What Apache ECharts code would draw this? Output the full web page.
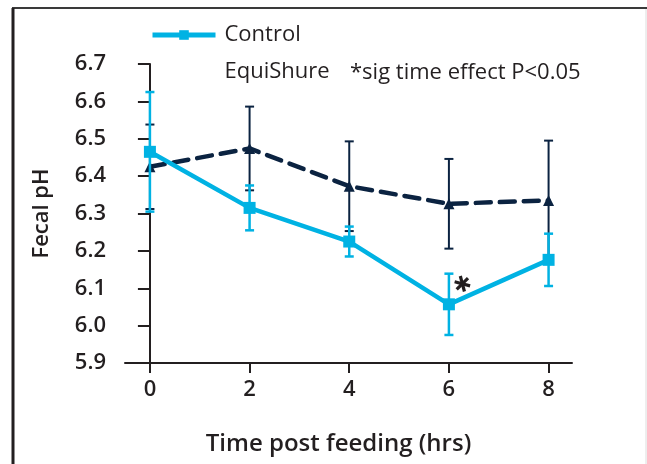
<!DOCTYPE html>
<html>
<head>
<meta charset="utf-8">
<script src="https://cdn.jsdelivr.net/npm/echarts@6/dist/echarts.min.js"></script>
<style>
  html, body { margin: 0; padding: 0; background: #fff; }
  #chart { width: 647px; height: 464px; }
</style>
</head>
<body>
<div id="chart"></div>
<script>
// 数据
const hours = [0, 2, 4, 6, 8]
const controlPH = [6.465, 6.315, 6.225, 6.057, 6.176]
const controlErr = [0.16, 0.06, 0.04, 0.082, 0.07]
const equiPH = [6.425, 6.474, 6.373, 6.326, 6.335]
const equiErr = [0.113, 0.112, 0.12, 0.12, 0.16]
const yTicks = ['5.9', '6.0', '6.1', '6.2', '6.3', '6.4', '6.5', '6.6', '6.7']
const sigMark = [6.27, 6.112]

const cyan = '#00b2e3'
const navy = '#0b2341'
const ink = '#231f20'
const font = '"Open Sans", "Noto Sans", sans-serif'

const pts = (ys) => hours.map((h, i) => [h, ys[i]])
const bars = (ys, es) => hours.map((h, i) => [h, ys[i] - es[i], ys[i] + es[i]])

// 误差线
function errorBar(color, width) {
    return function(params, api) {
        const top = api.coord([api.value(0), api.value(2)])
        const bot = api.coord([api.value(0), api.value(1)])
        const w = 4.5
        const style = { stroke: color, lineWidth: width }
        return {
            type: 'group',
            children: [
                { type: 'line', shape: { x1: top[0], y1: top[1], x2: bot[0], y2: bot[1] }, style },
                { type: 'line', shape: { x1: top[0] - w, y1: top[1], x2: top[0] + w, y2: top[1] }, style },
                { type: 'line', shape: { x1: bot[0] - w, y1: bot[1], x2: bot[0] + w, y2: bot[1] }, style }
            ]
        }
    }
}

// 星号
function asterisk(params, api) {
    const c = api.coord([api.value(0), api.value(1)])
    const r = 8
    const style = { stroke: ink, lineWidth: 3.2 }
    const arms = [75, 15, -45].map(deg => {
        const a = deg * Math.PI / 180
        const dx = Math.cos(a) * r
        const dy = Math.sin(a) * r
        return { type: 'line', shape: { x1: c[0] - dx, y1: c[1] - dy, x2: c[0] + dx, y2: c[1] + dy }, style }
    })
    return { type: 'group', children: arms }
}

const chart = echarts.init(document.getElementById('chart'))
chart.setOption({
    animation: false,
    backgroundColor: '#fff',
    textStyle: { fontFamily: font, color: ink },
    grid: { left: 125, right: 75, top: 64, bottom: 101, containLabel: false },
    legend: {
        orient: 'vertical',
        left: 150,
        top: 24,
        padding: 0,
        itemWidth: 63,
        itemHeight: 12,
        itemGap: 15,
        textStyle: { fontSize: 22, fontWeight: 500, color: ink, padding: [0, 0, 0, 4], fontFamily: font },
        data: [
            { name: 'Control', lineStyle: { width: 5 } },
            { name: 'EquiShure', icon: 'none', itemStyle: { opacity: 0 }, lineStyle: { opacity: 0 } }
        ]
    },
    graphic: [
        { type: 'line', shape: { x1: 12, y1: 8, x2: 647, y2: 8 }, style: { stroke: '#3a3a3a', lineWidth: 2 } },
        { type: 'line', shape: { x1: 13, y1: 8, x2: 13, y2: 464 }, style: { stroke: ink, lineWidth: 3 } },
        { type: 'line', shape: { x1: 646, y1: 9, x2: 646, y2: 464 }, style: { stroke: '#dcdcdc', lineWidth: 1 } },
        {
            type: 'text', left: 350, top: 62,
            style: { text: '*sig time effect P<0.05', fontSize: 22, fontWeight: 500, fill: ink, fontFamily: font }
        }
    ],
    xAxis: {
        type: 'value',
        min: -0.5,
        max: 8.47,
        name: 'Time post feeding (hrs)',
        nameLocation: 'middle',
        nameGap: 69,
        nameTextStyle: { fontSize: 24, fontWeight: 600, color: ink, fontFamily: font, padding: [0, 20, 0, 0] },
        splitLine: { show: false },
        axisLine: { lineStyle: { color: ink, width: 2 } },
        axisTick: { show: true, length: 10, lineStyle: { color: ink, width: 2 }, customValues: hours },
        axisLabel: { customValues: hours, fontSize: 22, fontWeight: 600, color: ink, margin: 16, fontFamily: font }
    },
    yAxis: {
        type: 'value',
        min: 5.9,
        max: 6.7,
        interval: 0.1,
        name: 'Fecal pH',
        nameLocation: 'middle',
        nameGap: 72,
        nameRotate: 90,
        nameTextStyle: { fontSize: 22, fontWeight: 600, color: ink, fontFamily: font },
        splitLine: { show: false },
        axisLine: { show: true, lineStyle: { color: ink, width: 2 } },
        axisTick: { show: true, length: 12, lineStyle: { color: ink, width: 2 } },
        axisLabel: {
            fontSize: 22, fontWeight: 600, color: ink, margin: 19, fontFamily: font,
            formatter: (v) => yTicks[Math.round((v - 5.9) * 10)] || ''
        }
    },
    series: [
        {
            name: 'EquiShure-err',
            type: 'custom',
            renderItem: errorBar(navy, 2),
            encode: { x: 0, y: [1, 2] },
            data: bars(equiPH, equiErr),
            z: 2
        },
        {
            name: 'EquiShure',
            type: 'line',
            data: pts(equiPH),
            symbol: 'triangle',
            symbolSize: 11,
            color: navy,
            itemStyle: { color: navy },
            lineStyle: { color: navy, width: 4.5, type: [15, 9], cap: 'round' },
            z: 3
        },
        {
            name: 'Control-err',
            type: 'custom',
            renderItem: errorBar(cyan, 2.5),
            encode: { x: 0, y: [1, 2] },
            data: bars(controlPH, controlErr),
            z: 4
        },
        {
            name: 'Control',
            type: 'line',
            data: pts(controlPH),
            symbol: 'rect',
            symbolSize: 12,
            color: cyan,
            itemStyle: { color: cyan },
            lineStyle: { color: cyan, width: 4.5 },
            z: 5
        },
        {
            name: 'sig',
            type: 'custom',
            renderItem: asterisk,
            encode: { x: 0, y: 1 },
            data: [sigMark],
            z: 6
        }
    ]
})
</script>
</body>
</html>
